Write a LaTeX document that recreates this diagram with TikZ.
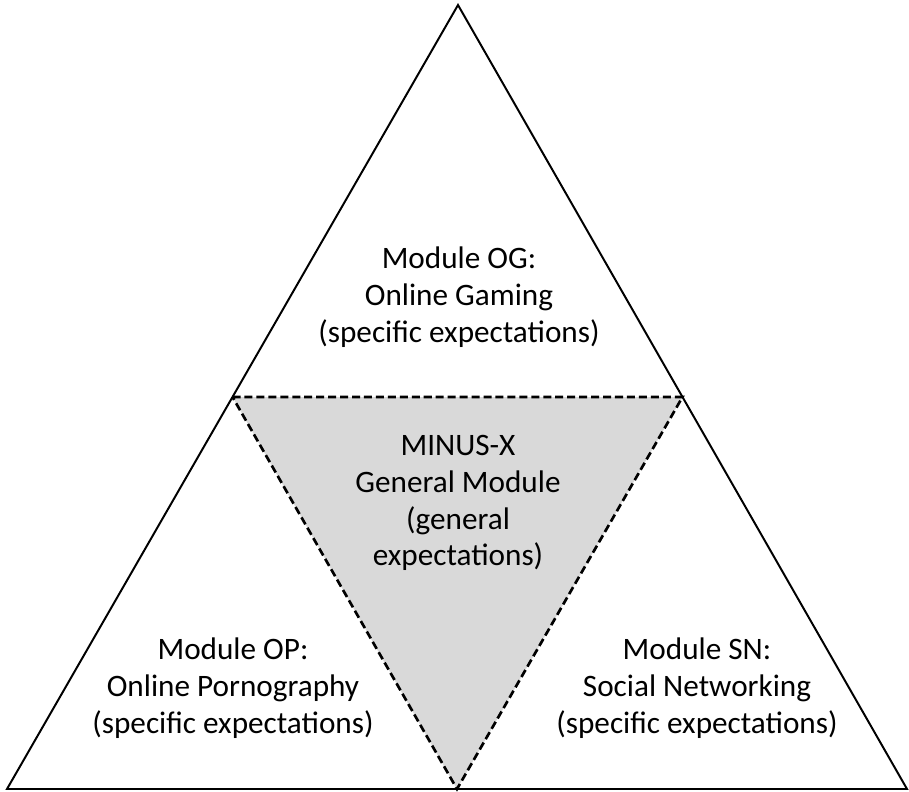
\documentclass[tikz,border=0pt]{standalone}
\usepackage{fontspec}
\setmainfont{Carlito}
\usepackage{tikz}
\usetikzlibrary{positioning,calc}

\begin{document}
\begin{tikzpicture}[
    x=0.025cm, y=-0.025cm,
    label/.style={
        align=center,
        font=\fontsize{22.2}{26.2}\selectfont,
        inner sep=0pt
    },
    outer/.style={draw, line width=1.4pt, line join=miter},
    inner/.style={draw, dash pattern=on 5.7pt off 2.8pt, line width=1.9pt, fill=black!15}
]
\useasboundingbox (0,0) rectangle (909,791);

\coordinate (top) at (458,5);
\coordinate (left) at (7,789);
\coordinate (right) at (907,789);
\coordinate (midL) at ($(top)!0.5!(left)$);
\coordinate (midR) at ($(top)!0.5!(right)$);
\coordinate (midB) at ($(left)!0.5!(right)$);

\draw[inner] (midL) -- (midR) -- (midB) -- cycle;
\draw[outer] (top) -- (right) -- (left) -- cycle;

\node[label] (og) at (459,297) {Module OG:\\Online Gaming\\(specific expectations)};
\node[label] (gm) at (458,503) {MINUS-X\\General Module\\(general\\expectations)};
\node[label] (op) at (233,688) {Module OP:\\Online Pornography\\(specific expectations)};
\node[label] (sn) at (697,688) {Module SN:\\Social Networking\\(specific expectations)};
\end{tikzpicture}
\end{document}
